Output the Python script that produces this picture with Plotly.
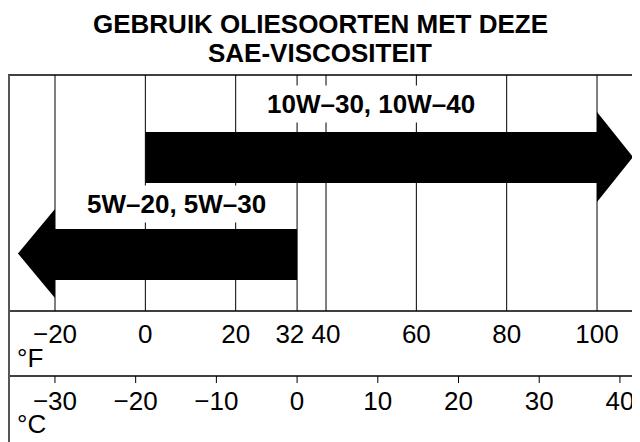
import plotly.graph_objects as go

# ---- data ----
title_lines = ["GEBRUIK OLIESOORTEN MET DEZE", "SAE-VISCOSITEIT"]
f_ticks = [-20, 0, 20, 32, 40, 60, 80, 100]          # °F labels
f_grid = [-20, 0, 20, 40, 60, 80, 100]               # °F vertical lines
c_ticks = [-30, -20, -10, 0, 10, 20, 30, 40]         # °C labels
c_grid = [0]                                         # freezing line (°C)
oil_labels = ["10W–30, 10W–40", "5W–20, 5W–30"]
oil_from = [0, 0]          # range start (10W in °F, 5W in °C)
oil_to = [100, -30]        # range end (arrow head side)
oil_axis = ["x", "x2"]

# ---- layout constants ----
W, H = 640, 442
OFF = 8  # page body margin
F_PX = 4.5167
C_PX = 8.071
F_RANGE = [-32.18 + OFF / F_PX, -32.18 + (W + OFF) / F_PX]
C_RANGE = [-36.81 + OFF / C_PX, -36.81 + (W + OFF) / C_PX]
FONT = "Liberation Sans, Arial, Helvetica, sans-serif"
BOX_L, BOX_T, FROW_T, CROW_T = 8, 75, 311, 376

def px_per_unit(r):
    return W / (r[1] - r[0])

def fmt(v):
    return ("−" + str(-v)) if v < 0 else str(v)

def px(s):  # screen x -> paper
    return (s - OFF) / W

fig = go.Figure()

# vertical grid lines in the upper box
gx, gy = [], []
for v in f_grid:
    gx += [v, v, None]
    gy += [BOX_T, FROW_T, None]
fig.add_trace(go.Scatter(x=gx, y=gy, mode="lines", line=dict(color="black", width=1),
                         hoverinfo="skip", showlegend=False))
cx, cy = [], []
for v in c_grid:
    cx += [v, v, None]
    cy += [BOX_T, FROW_T, None]
fig.add_trace(go.Scatter(x=cx, y=cy, xaxis="x2", mode="lines", line=dict(color="black", width=1),
                         hoverinfo="skip", showlegend=False))
# °C ticks
tx, ty = [], []
for v in c_ticks:
    tx += [v, v, None]
    ty += [CROW_T, CROW_T + 7, None]
fig.add_trace(go.Scatter(x=tx, y=ty, xaxis="x2", mode="lines", line=dict(color="black", width=1),
                         hoverinfo="skip", showlegend=False))

# arrows
arrow_geom = [dict(top=132, bot=183, htop=112, hbot=202, head=36, ly=104),
              dict(top=229, bot=280, htop=209, hbot=298, head=37, ly=204)]
for lab, a, b, ax, g in zip(oil_labels, oil_from, oil_to, oil_axis, arrow_geom):
    rng = F_RANGE if ax == "x" else C_RANGE
    d = 1 if b > a else -1
    tip = b + d * g["head"] / px_per_unit(rng)
    mid = (g["htop"] + g["hbot"]) / 2
    xs = [a, b, b, tip, b, b, a, a]
    ys = [g["top"], g["top"], g["htop"], mid, g["hbot"], g["bot"], g["bot"], g["top"]]
    fig.add_trace(go.Scatter(x=xs, y=ys, xaxis=ax, mode="lines", fill="toself",
                             fillcolor="black", line=dict(color="black", width=0),
                             hoverinfo="skip", showlegend=False))
    fig.add_annotation(x=(a + b) / 2, y=g["ly"], xref=ax, yref="y", text=lab,
                       showarrow=False, bgcolor="white", borderpad=3,
                       font=dict(family=FONT, size=26, color="black", weight="bold"))

# tick labels
fig.add_trace(go.Scatter(x=f_ticks, y=[336] * len(f_ticks), mode="text",
                         text=[fmt(v) for v in f_ticks],
                         textfont=dict(family=FONT, size=26, color="black"),
                         hoverinfo="skip", showlegend=False))
fig.add_trace(go.Scatter(x=c_ticks, y=[403] * len(c_ticks), xaxis="x2", mode="text",
                         text=[fmt(v) for v in c_ticks],
                         textfont=dict(family=FONT, size=26, color="black"),
                         hoverinfo="skip", showlegend=False))

fig.add_annotation(x=px(15), y=358, xref="paper", yref="y", text="°F", xanchor="left",
                   showarrow=False, font=dict(family=FONT, size=26, color="black"))
fig.add_annotation(x=px(15), y=424, xref="paper", yref="y", text="°C", xanchor="left",
                   showarrow=False, font=dict(family=FONT, size=26, color="black"))

# title (one annotation per line)
for line, yc in zip(title_lines, [24, 53]):
    fig.add_annotation(x=px(320), y=yc, xref="paper", yref="y", text=line,
                       showarrow=False, font=dict(family=FONT, size=26, color="black", weight="bold"))

# frame lines
shapes = [
    dict(type="line", xref="paper", yref="y", x0=px(BOX_L), x1=1, y0=BOX_T, y1=BOX_T,
         line=dict(color="black", width=1.5)),
    dict(type="line", xref="paper", yref="y", x0=px(BOX_L), x1=1, y0=FROW_T, y1=FROW_T,
         line=dict(color="black", width=1.5)),
    dict(type="line", xref="paper", yref="y", x0=px(BOX_L), x1=1, y0=CROW_T, y1=CROW_T,
         line=dict(color="black", width=1.5)),
    dict(type="line", xref="paper", yref="y", x0=px(BOX_L + 1), x1=px(BOX_L + 1), y0=BOX_T, y1=H + OFF,
         line=dict(color="#555", width=2)),
]

fig.update_layout(
    width=W, height=H, margin=dict(l=0, r=0, t=0, b=0),
    paper_bgcolor="white", plot_bgcolor="white", shapes=shapes,
    xaxis=dict(range=F_RANGE, visible=False, fixedrange=True),
    xaxis2=dict(range=C_RANGE, visible=False, overlaying="x", anchor="y"),
    yaxis=dict(range=[H + OFF, OFF], visible=False),
    showlegend=False,
)
fig.write_html("out.html")
